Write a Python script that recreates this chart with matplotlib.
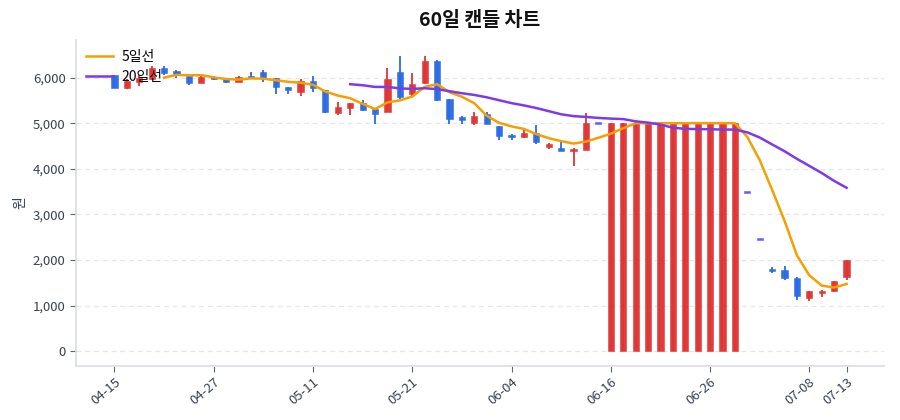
import matplotlib
matplotlib.use("Agg")
import matplotlib.pyplot as plt
import numpy as np
import pandas as pd

plt.rcParams['font.family'] = ['Noto Sans CJK KR', 'DejaVu Sans']

opens = [6050, 5780, 5900, 5960, 6200, 6150, 6030, 5890, 6010, 5980,
         5910, 6050, 6120, 5990, 5790, 5690, 5930, 5720, 5230, 5340,
         5440, 5320, 5250, 6120, 5640, 5880, 6370, 5530, 5140, 5010,
         5210, 4930, 4740, 4690, 4790, 4480, 4460, 4410, 4420, 5000,
         0, 0, 0, 0, 0, 0, 0, 0, 0, 0,
         0, 3500, 2450, 1810, 1770, 1610, 1160, 1270, 1310, 1630]
highs = [6060, 5960, 6050, 6260, 6250, 6160, 6040, 6030, 6040, 5990,
         6040, 6120, 6160, 6000, 5790, 5960, 6030, 5730, 5470, 5450,
         5500, 5330, 6200, 6470, 6100, 6480, 6380, 5540, 5150, 5240,
         5240, 4940, 4760, 4850, 4970, 4560, 4580, 4460, 5230, 5000,
         5000, 5000, 5000, 5000, 5000, 5000, 5000, 5000, 5000, 5000,
         5000, 3500, 2450, 1840, 1860, 1620, 1320, 1340, 1540, 2000]
lows = [5770, 5760, 5810, 5950, 6050, 5990, 5830, 5880, 5950, 5890,
        5900, 6000, 5910, 5640, 5630, 5590, 5690, 5230, 5190, 5190,
        5260, 4990, 5250, 5520, 5590, 5870, 5490, 4990, 4990, 4960,
        4980, 4640, 4630, 4680, 4550, 4440, 4390, 4060, 4410, 5000,
        0, 0, 0, 0, 0, 0, 0, 0, 0, 0,
        0, 3500, 2450, 1720, 1555, 1120, 1100, 1180, 1300, 1555]
closes = [5780, 5930, 6000, 6200, 6090, 6080, 5880, 6020, 5960, 5900,
          6020, 6010, 5990, 5790, 5730, 5920, 5780, 5250, 5350, 5440,
          5300, 5210, 5980, 5570, 5860, 6370, 5500, 5100, 5070, 5150,
          4990, 4730, 4710, 4790, 4580, 4550, 4400, 4450, 5000, 5000,
          5000, 5000, 5000, 5000, 5000, 5000, 5000, 5000, 5000, 5000,
          5000, 3500, 2450, 1750, 1600, 1210, 1310, 1320, 1540, 1990]

tick_idx = [0, 8, 16, 24, 32, 40, 48, 56, 59]
tick_labels = ['04-15', '04-27', '05-11', '05-21', '06-04', '06-16', '06-26', '07-08', '07-13']

UP = '#e03535'
DOWN = '#2b6be6'
FLAT = '#5b5ff0'

df = pd.DataFrame({'o': opens, 'h': highs, 'l': lows, 'c': closes})
x = np.arange(len(df))
ma5 = df['c'].rolling(5).mean()
ma20 = df['c'].rolling(20).mean()

fig = plt.figure(figsize=(9, 4.2), dpi=100)
ax = fig.add_axes([0.0844, 0.1286, 0.8976, 0.7762])

colors = []
for o, c in zip(df['o'], df['c']):
    if c > o:
        colors.append(UP)
    elif c < o:
        colors.append(DOWN)
    else:
        colors.append(FLAT)

ax.vlines(x, df['l'], df['h'], colors=colors, linewidth=1.3, zorder=2)
body_bottom = np.minimum(df['o'], df['c'])
body_h = np.abs(df['c'] - df['o'])
small = body_h < 45
body_h = np.where(small, 45, body_h)
body_bottom = np.where(small, body_bottom - 22, body_bottom)
ax.bar(x, body_h, bottom=body_bottom, width=0.5, color=colors, edgecolor=colors,
       linewidth=0.4, zorder=3, alpha=0.97)

ax.plot(x, ma5, color='#f59f00', linewidth=1.8, label='5일선', zorder=4)
ax.plot(x, ma20, color='#7c3aed', linewidth=1.8, label='20일선', zorder=4)

ax.set_xlim(-3.1, 62)
ax.set_ylim(-325, 6825)
ax.set_yticks(np.arange(0, 7000, 1000))
ax.yaxis.set_major_formatter(matplotlib.ticker.FuncFormatter(lambda v, p: f'{int(v):,}'))
ax.set_xticks(tick_idx)
ax.set_xticklabels(tick_labels, rotation=40, ha='right', rotation_mode='anchor')

ax.grid(axis='y', linestyle=(0, (4, 3)), color='#e3e6ea', linewidth=0.9)
ax.set_axisbelow(True)
for s in ['top', 'right']:
    ax.spines[s].set_visible(False)
for s in ['left', 'bottom']:
    ax.spines[s].set_color('#d9dde3')
    ax.spines[s].set_linewidth(1.2)
ax.tick_params(colors='#5f6670', labelcolor='#374151', labelsize=9.5, length=4)
ax.tick_params(axis='x', pad=3)

ax.set_ylabel('원', fontsize=10, color='#374151')
ax.set_title('60일 캔들 차트', fontsize=14, fontweight='bold', color='#111111', pad=10)

leg = ax.legend(loc='upper left', frameon=False, fontsize=10, handlelength=2.0,
                handletextpad=0.6, borderaxespad=0.3, labelspacing=0.45)

fig.savefig('out.png', dpi=100)
